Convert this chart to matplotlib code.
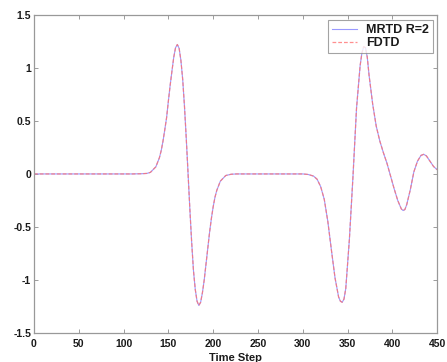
import matplotlib
matplotlib.use("Agg")
import matplotlib.pyplot as plt

time_steps = [0, 110, 120, 126, 130, 136, 140, 142, 144, 146, 148, 150, 152, 154, 156, 158, 160,
              162, 164, 166, 168, 170, 172, 174, 176, 178, 180, 182, 184, 186, 188, 190, 192,
              194, 196, 198, 200, 202, 204, 208, 214, 220, 226, 300,
              306, 312, 316, 320, 324, 328, 332, 336, 340, 342, 344, 346, 348, 352, 356, 360,
              364, 366, 368, 370, 372, 374, 378, 382, 386, 390, 394, 398, 402, 406, 410, 412,
              414, 416, 420, 424, 428, 432, 435, 438, 442, 446, 450]
mrtd = [0, 0, 0.002, 0.005, 0.015, 0.067, 0.153, 0.22, 0.309, 0.417, 0.53, 0.687, 0.836, 0.97, 1.10, 1.19, 1.22,
        1.185, 1.07, 0.89, 0.634, 0.33, 0.0, -0.335, -0.644, -0.91, -1.088, -1.20, -1.24, -1.21, -1.12, -1.0, -0.85,
        -0.70, -0.55, -0.42, -0.31, -0.22, -0.156, -0.068, -0.015, -0.003, 0, 0,
        -0.005, -0.02, -0.05, -0.12, -0.24, -0.45, -0.72, -0.98, -1.16, -1.20, -1.21, -1.18, -1.08, -0.62, -0.03, 0.62,
        1.02, 1.14, 1.2, 1.19, 1.1, 0.93, 0.66, 0.45, 0.31, 0.20, 0.10, -0.02, -0.14, -0.25, -0.33, -0.345,
        -0.335, -0.29, -0.15, 0.02, 0.12, 0.175, 0.185, 0.17, 0.12, 0.07, 0.04]
fdtd = list(mrtd)

labels = ["MRTD R=2", "FDTD"]
xticks = [0, 50, 100, 150, 200, 250, 300, 350, 400, 450]
yticks = [-1.5, -1, -0.5, 0, 0.5, 1, 1.5]
ytick_labels = ["-1.5", "-1", "-0.5", "0", "0.5", "1", "1.5"]

plt.rcParams['font.family'] = ['Liberation Sans', 'DejaVu Sans']
fig = plt.figure(figsize=(4.47, 3.62), dpi=100)
ax = fig.add_axes([0.076, 0.080, 0.902, 0.879])

ax.plot(time_steps, mrtd, color=(0.6, 0.6, 1.0), lw=0.8, label=labels[0])
ax.plot(time_steps, fdtd, color=(1.0, 0.45, 0.45), lw=0.9, ls=(0, (3, 1.6)), alpha=0.8, label=labels[1])

ax.set_xlim(0, 450)
ax.set_ylim(-1.5, 1.5)
ax.set_xticks(xticks)
ax.set_yticks(yticks)
ax.set_yticklabels(ytick_labels)
ax.tick_params(direction='in', length=3, width=0.6, color='0.55', labelsize=7.5,
               top=True, right=True, labelcolor='0.1')
ax.tick_params(axis='x', pad=4)
ax.tick_params(axis='y', pad=2)
for lab in ax.get_xticklabels() + ax.get_yticklabels():
    lab.set_fontweight('bold')
for s in ax.spines.values():
    s.set_color('0.6')
    s.set_linewidth(0.9)
ax.set_xlabel("Time Step", fontsize=8, fontweight='bold', labelpad=3, color='0.1')

leg = ax.legend(loc='upper right', bbox_to_anchor=(0.990, 0.984),
                prop={'size': 9, 'weight': 'bold'},
                frameon=True, fancybox=False, handlelength=2.0, handletextpad=0.7,
                borderpad=0.35, labelspacing=0.05, borderaxespad=0)
leg.get_frame().set_edgecolor('0.55')
leg.get_frame().set_linewidth(0.8)
for t in leg.get_texts():
    t.set_color('0.1')

fig.savefig("out.png", dpi=100)
